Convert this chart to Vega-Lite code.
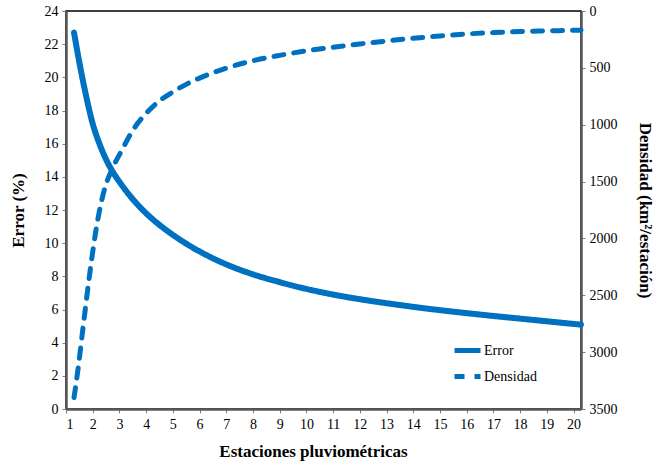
{
  "$schema": "https://vega.github.io/schema/vega-lite/v6.json",
  "autosize": {"type": "none"},
  "width": 515,
  "height": 398,
  "padding": {"left": 66, "top": 11, "right": 77, "bottom": 56},
  "background": "white",
  "config": {
    "font": "Liberation Serif",
    "view": {"stroke": "#000000", "strokeWidth": 1.5},
    "legend": {"labelFont": "Liberation Serif", "titleFont": "Liberation Serif"},
    "axis": {
      "grid": false,
      "domainColor": "#595959",
      "domainWidth": 2.5,
      "tickColor": "#7f7f7f",
      "tickWidth": 1,
      "tickSize": 4,
      "labelFont": "Liberation Serif",
      "labelFontSize": 14,
      "labelColor": "#000000",
      "titleFont": "Liberation Serif",
      "titleFontSize": 17,
      "titleFontWeight": "bold",
      "titleColor": "#000000"
    }
  },
  "datasets": {
    "error": [
      {"serie": "Error", "estaciones": 1.3, "valor": 22.7},
      {"serie": "Error", "estaciones": 1.5, "valor": 20.9},
      {"serie": "Error", "estaciones": 1.75, "valor": 18.9},
      {"serie": "Error", "estaciones": 2.0, "valor": 17.2},
      {"serie": "Error", "estaciones": 2.25, "valor": 16.0},
      {"serie": "Error", "estaciones": 2.5, "valor": 15.05},
      {"serie": "Error", "estaciones": 2.75, "valor": 14.3},
      {"serie": "Error", "estaciones": 3.0, "valor": 13.7},
      {"serie": "Error", "estaciones": 3.5, "valor": 12.65},
      {"serie": "Error", "estaciones": 4.0, "valor": 11.8},
      {"serie": "Error", "estaciones": 4.5, "valor": 11.1},
      {"serie": "Error", "estaciones": 5.0, "valor": 10.5},
      {"serie": "Error", "estaciones": 5.5, "valor": 9.97},
      {"serie": "Error", "estaciones": 6.0, "valor": 9.5},
      {"serie": "Error", "estaciones": 7.0, "valor": 8.72},
      {"serie": "Error", "estaciones": 8.0, "valor": 8.12},
      {"serie": "Error", "estaciones": 9.0, "valor": 7.65},
      {"serie": "Error", "estaciones": 10.0, "valor": 7.24},
      {"serie": "Error", "estaciones": 11.0, "valor": 6.9},
      {"serie": "Error", "estaciones": 12.0, "valor": 6.62},
      {"serie": "Error", "estaciones": 13.0, "valor": 6.38},
      {"serie": "Error", "estaciones": 14.0, "valor": 6.16},
      {"serie": "Error", "estaciones": 15.0, "valor": 5.96},
      {"serie": "Error", "estaciones": 16.0, "valor": 5.78},
      {"serie": "Error", "estaciones": 17.0, "valor": 5.61},
      {"serie": "Error", "estaciones": 18.0, "valor": 5.45},
      {"serie": "Error", "estaciones": 19.0, "valor": 5.29},
      {"serie": "Error", "estaciones": 20.0, "valor": 5.13},
      {"serie": "Error", "estaciones": 20.28, "valor": 5.09}
    ],
    "densidad": [
      {"serie": "Densidad", "estaciones": 1.3, "valor": 3400},
      {"serie": "Densidad", "estaciones": 1.45, "valor": 3150},
      {"serie": "Densidad", "estaciones": 1.65, "valor": 2760},
      {"serie": "Densidad", "estaciones": 1.85, "valor": 2380},
      {"serie": "Densidad", "estaciones": 2.1, "valor": 1960},
      {"serie": "Densidad", "estaciones": 2.25, "valor": 1760},
      {"serie": "Densidad", "estaciones": 2.45, "valor": 1560},
      {"serie": "Densidad", "estaciones": 2.75, "valor": 1380},
      {"serie": "Densidad", "estaciones": 3.1, "valor": 1220},
      {"serie": "Densidad", "estaciones": 3.5, "valor": 1050},
      {"serie": "Densidad", "estaciones": 4.0, "valor": 900},
      {"serie": "Densidad", "estaciones": 4.5, "valor": 790},
      {"serie": "Densidad", "estaciones": 5.0, "valor": 712},
      {"serie": "Densidad", "estaciones": 5.5, "valor": 645},
      {"serie": "Densidad", "estaciones": 6.0, "valor": 590},
      {"serie": "Densidad", "estaciones": 7.0, "valor": 503},
      {"serie": "Densidad", "estaciones": 8.0, "valor": 437},
      {"serie": "Densidad", "estaciones": 9.0, "valor": 390},
      {"serie": "Densidad", "estaciones": 10.0, "valor": 350},
      {"serie": "Densidad", "estaciones": 11.0, "valor": 318},
      {"serie": "Densidad", "estaciones": 12.0, "valor": 290},
      {"serie": "Densidad", "estaciones": 13.0, "valor": 264},
      {"serie": "Densidad", "estaciones": 14.0, "valor": 240},
      {"serie": "Densidad", "estaciones": 15.0, "valor": 219},
      {"serie": "Densidad", "estaciones": 16.0, "valor": 202},
      {"serie": "Densidad", "estaciones": 17.0, "valor": 190},
      {"serie": "Densidad", "estaciones": 18.0, "valor": 181},
      {"serie": "Densidad", "estaciones": 19.0, "valor": 175},
      {"serie": "Densidad", "estaciones": 20.0, "valor": 170},
      {"serie": "Densidad", "estaciones": 20.28, "valor": 168}
    ]
  },
  "encoding": {
    "x": {
      "field": "estaciones",
      "type": "quantitative",
      "scale": {"domain": [1, 20.28], "nice": false, "zero": false},
      "axis": {
        "title": "Estaciones pluviométricas",
        "values": [1,2,3,4,5,6,7,8,9,10,11,12,13,14,15,16,17,18,19,20],
        "labelFont": "Liberation Serif",
        "titleFont": "Liberation Serif",
        "labelPadding": 4,
        "titlePadding": 12,
        "titleX": 247
      }
    },
    "color": {
      "field": "serie",
      "type": "nominal",
      "scale": {"domain": ["Error", "Densidad"], "range": ["#0070C0", "#0070C0"]},
      "legend": {
        "title": null,
        "orient": "none",
        "legendX": 386,
        "legendY": 324,
        "labelFont": "Liberation Serif",
        "labelFontSize": 14,
        "labelColor": "#000000",
        "symbolStrokeWidth": 5,
        "symbolSize": 676,
        "rowPadding": 0,
        "labelOffset": 1
      }
    },
    "strokeDash": {
      "field": "serie",
      "type": "nominal",
      "scale": {"domain": ["Error", "Densidad"], "range": [[1, 0], [10, 10]]},
      "legend": {
        "title": null,
        "orient": "none",
        "legendX": 386,
        "legendY": 324,
        "labelFont": "Liberation Serif",
        "labelFontSize": 14,
        "labelColor": "#000000",
        "symbolStrokeWidth": 5,
        "symbolSize": 676,
        "rowPadding": 0,
        "labelOffset": 1
      }
    }
  },
  "layer": [
    {
      "data": {"name": "error"},
      "mark": {"type": "line", "strokeWidth": 6, "strokeCap": "round", "interpolate": "monotone"},
      "encoding": {
        "y": {
          "field": "valor",
          "type": "quantitative",
          "scale": {"domain": [0, 24], "nice": false},
          "axis": {
            "title": "Error (%)",
            "orient": "left",
            "values": [0,2,4,6,8,10,12,14,16,18,20,22,24],
            "labelFont": "Liberation Serif",
            "titleFont": "Liberation Serif",
            "labelPadding": 4,
            "titlePadding": 17
          }
        }
      }
    },
    {
      "data": {"name": "densidad"},
      "mark": {"type": "line", "strokeWidth": 5, "strokeCap": "round", "interpolate": "monotone"},
      "encoding": {
        "y": {
          "field": "valor",
          "type": "quantitative",
          "scale": {"domain": [0, 3500], "nice": false, "reverse": true},
          "axis": {
            "title": "Densidad (km²/estación)",
            "orient": "right",
            "format": "d",
            "values": [0,500,1000,1500,2000,2500,3000,3500],
            "labelFont": "Liberation Serif",
            "titleFont": "Liberation Serif",
            "labelPadding": 4,
            "titlePadding": 18
          }
        }
      }
    }
  ],
  "resolve": {"scale": {"y": "independent"}}
}
